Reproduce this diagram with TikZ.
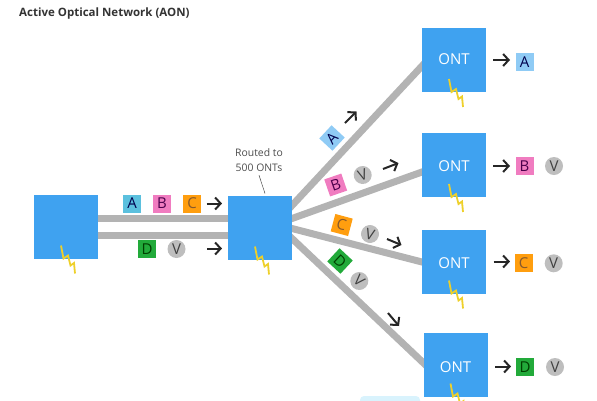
\documentclass[tikz,border=0pt]{standalone}
\usepackage{fontspec}
\setmainfont{Open Sans}
\usepackage{tikz}
\usetikzlibrary{arrows.meta,calc,backgrounds}
\usepackage{xcolor}
\definecolor{boxblue}{RGB}{63,162,240}
\definecolor{fibre}{RGB}{179,179,179}
\definecolor{bolt}{RGB}{238,208,42}
\definecolor{teal0}{RGB}{91,192,222}
\definecolor{sky}{RGB}{143,203,245}
\definecolor{pink0}{RGB}{240,124,192}
\definecolor{orange0}{RGB}{255,158,15}
\definecolor{green0}{RGB}{34,170,58}
\definecolor{voice}{RGB}{190,190,190}

\begin{document}
\begin{tikzpicture}[
  x=1pt, y=-1pt,
  unit/.style={fill=boxblue, minimum size=64pt, inner sep=0pt, outer sep=0pt},
  ontlabel/.style={text=white, font=\fontsize{15}{17}\selectfont, inner sep=0pt},
  tag/.style={minimum size=18pt, inner sep=0pt, font=\fontsize{15}{17}\selectfont},
  voicetag/.style={circle, fill=voice, text=black!75, minimum size=18pt, inner sep=0pt, font=\fontsize{15}{17}\selectfont},
  arr/.style={-{Straight Barb[length=5.5pt,width=12pt]}, line width=2pt, black!85},
  fibreline/.style={line width=7pt, fibre, shorten <=-6pt, shorten >=-4pt},
  pics/zap/.style={code={
    \draw[bolt, line width=1.8pt, line join=miter] (-5,-13) -- (-2.5,0) -- (2,-3) -- (4.5,7) -- (8,4.5) -- (9,15);
  }},
]
\clip (0,0) rectangle (597,400);

\node[anchor=west, font=\fontsize{11.5}{13}\selectfont\bfseries, text=black!80, inner sep=0pt] (title) at (19,13.5) {Active Optical Network (AON)};

\node[unit] (olt) at (66,226.5) {};
\node[unit] (router) at (260,227.5) {};
\node[unit, label={[ontlabel, yshift=1pt]center:ONT}] (onta) at (454,60) {};
\node[unit, label={[ontlabel, yshift=-1pt]center:ONT}] (ontb) at (454,165) {};
\node[unit, label={[ontlabel, yshift=-1.5pt]center:ONT}] (ontc) at (454,261.5) {};
\node[unit, label={[ontlabel, yshift=-2.5pt]center:ONT}] (ontd) at (455.5,364.5) {};

\fill[cyan!15, rounded corners=4pt] (360,396) rectangle (420,410);

\begin{scope}[on background layer]
  \draw[fibreline] ($(olt.east)+(0,-8)$) -- ($(router.west)+(0,-9)$);
  \draw[fibreline] ($(olt.east)+(0,8.5)$) -- ($(router.west)+(0,7.5)$);
  \draw[fibreline] ($(router.east)+(0,-22)$) -- ($(onta.west)+(0,6)$);
  \draw[fibreline] ($(router.east)+(0,-9)$) -- ($(ontb.west)+(0,7)$);
  \draw[fibreline] ($(router.east)+(0,1)$) -- ($(ontc.west)+(0,0.5)$);
  \draw[fibreline] ($(router.east)+(0,11)$) -- ($(ontd.west)+(0,-1.5)$);
\end{scope}

\pic at (olt.south) {zap};
\pic at (router.south) {zap};
\pic at (onta.south) {zap};
\pic at (ontb.south) {zap};
\pic at (ontc.south) {zap};
\pic at (ontd.south) {zap};

\node[align=center, text=black!70, font=\fontsize{10.4}{15}\selectfont, inner sep=0pt] (routed) at (259,160.5) {Routed to\\500 ONTs};
\draw[black!70, line width=0.5pt] ($(routed.south)+(0,3)$) -- ($(router.north)+(5,-2)$);

\node[tag, fill=teal0, text=blue!30!black] (taga) at (132,203.5) {A};
\node[tag, fill=pink0, text=violet!60!black] (tagb) at (162,203.5) {B};
\node[tag, fill=orange0, text=brown!70!black] (tagc) at (192,203.5) {C};
\node[tag, fill=green0, text=green!25!black] (tagd) at (147,249) {D};
\node[voicetag] (tagv) at (176.5,249) {V};
\draw[arr] ([xshift=5.5pt]tagc.east) -- ([xshift=-6pt]router.west |- tagc.east);
\coordinate (downv) at (207,248.5);
\draw[arr] (downv) -- ([xshift=-6pt]downv -| router.west);

\node[tag, rotate=47, fill=sky, text=blue!30!black] (diaga) at (332,138) {A};
\node[tag, rotate=19, fill=pink0, text=violet!60!black] (diagb) at (335.7,185) {B};
\node[voicetag, rotate=19] (voiceb) at (362.7,175) {V};
\node[tag, rotate=-15, fill=orange0, text=brown!70!black] (diagc) at (341.7,225) {C};
\node[voicetag, rotate=-15] (voicec) at (370,234) {V};
\node[tag, rotate=-43, fill=green0, text=green!25!black] (diagd) at (340,261) {D};
\node[voicetag, rotate=-43] (voiced) at (359.3,281) {V};

\coordinate (arra1) at (345,123);
\coordinate (arra2) at (356.5,111.5);
\coordinate (arrb1) at (383,169);
\coordinate (arrb2) at (398.5,163);
\coordinate (arrc1) at (387,239);
\coordinate (arrc2) at (401.5,245);
\coordinate (arrd1) at (388,313);
\coordinate (arrd2) at (399,326);
\draw[arr] (arra1) -- (arra2);
\draw[arr] (arrb1) -- (arrb2);
\draw[arr] (arrc1) -- (arrc2);
\draw[arr] (arrd1) -- (arrd2);

\node[tag, fill=sky, text=blue!30!black] (outa) at (524.5,62) {A};
\node[tag, fill=pink0, text=violet!60!black] (outb) at (524.5,166) {B};
\node[voicetag] (outbv) at (554,166) {V};
\node[tag, fill=orange0, text=brown!70!black] (outc) at (523.7,262.7) {C};
\node[voicetag] (outcv) at (553.7,263.3) {V};
\node[tag, fill=green0, text=green!25!black] (outd) at (525,367) {D};
\node[voicetag] (outdv) at (555,367) {V};

\draw[arr] ([xshift=7pt,yshift=0pt]onta.east) -- ([xshift=24pt]onta.east);
\draw[arr] ([xshift=7pt,yshift=-1pt]ontb.east) -- ([xshift=24pt,yshift=-1pt]ontb.east);
\draw[arr] ([xshift=7.5pt]ontc.east) -- ([xshift=24pt]ontc.east);
\draw[arr] ([xshift=7.5pt,yshift=-2pt]ontd.east) -- ([xshift=23.5pt,yshift=-2pt]ontd.east);
\end{tikzpicture}
\end{document}
